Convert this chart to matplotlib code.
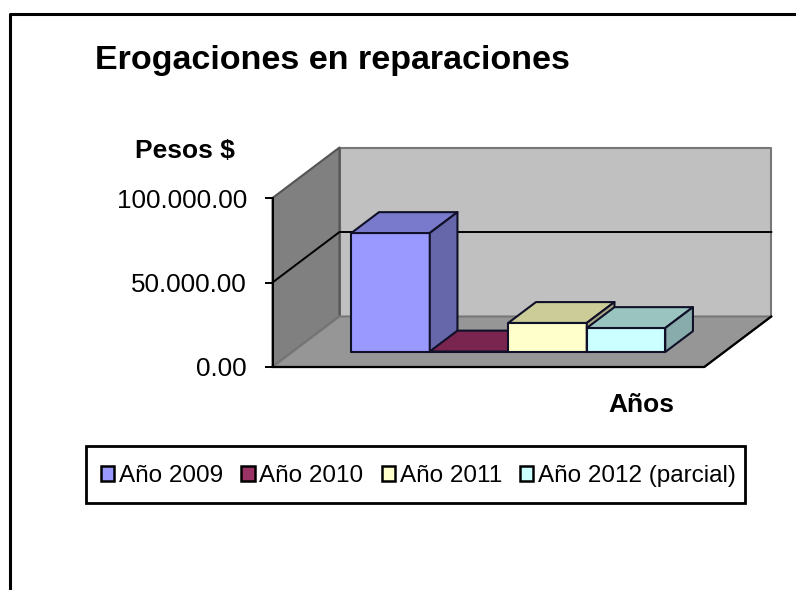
import matplotlib
matplotlib.use("Agg")
import matplotlib.pyplot as plt
from matplotlib.lines import Line2D
from matplotlib.patches import Patch, Polygon, Rectangle

plt.rcParams['font.family'] = ['Liberation Sans', 'DejaVu Sans']

series = ["Año 2009", "Año 2010", "Año 2011", "Año 2012 (parcial)"]
pesos = [70400, 300, 17200, 14200]
yticks = [0, 50000, 100000]
yticklabels = ["0.00", "50.000.00", "100.000.00"]
front = ["#9999FF", "#993366", "#FFFFCC", "#CCFFFF"]
top = ["#7A7ACC", "#7A2450", "#CCCC99", "#99C4C0"]
side = ["#6666AA", "#661B44", "#AAAA88", "#88ACAC"]

W, H = 796, 590
fig = plt.figure(figsize=(W / 100, H / 100), dpi=100)
x0, y0, y1 = 272.5, 367, 198
ax = fig.add_axes([x0 / W, 1 - y0 / H, (W - x0) / W, (y0 - y1) / H])

# one slot = one bar width, 0.75 gap each side
slot = 78.5
gap = 0.75
xmax = gap * 2 + len(pesos)
ax.set_xlim(0, (W - x0) / slot)
ax.set_ylim(0, 100000)

# fake 3d, depth 0 is front of the floor and 1 is the back wall
dx = 67 / slot
dy = 50.5 / 1.69 * 1000
d0, d1 = 0.297, 0.71


def pt(x, y, d):
    return (x + d * dx, y + d * dy)


def poly(points, color, edge="#606060", lw=1.5, z=1):
    ax.add_patch(Polygon(points, closed=True, facecolor=color, edgecolor=edge, linewidth=lw,
                         joinstyle="round", clip_on=False, zorder=z))


ymax = yticks[-1]
poly([pt(0, 0, 1), pt(xmax, 0, 1), pt(xmax, ymax, 1), pt(0, ymax, 1)], "#C0C0C0", "#777777")
poly([pt(0, 0, 0), pt(0, 0, 1), pt(0, ymax, 1), pt(0, ymax, 0)], "#808080", "#555555")
poly([pt(0, 0, 0), pt(xmax, 0, 0), pt(xmax, 0, 1), pt(0, 0, 1)], "#969696", "#777777")

# gridline and floor edges
grid = [pt(0, yticks[1], 0), pt(0, yticks[1], 1), pt(xmax, yticks[1], 1)]
ax.plot(*zip(*grid), color="black", lw=1.4, clip_on=False, zorder=2)
edge = [pt(0, 0, 0), pt(xmax, 0, 0), pt(xmax, 0, 1)]
ax.plot(*zip(*edge), color="black", lw=1.6, clip_on=False, zorder=2)

for i, v in enumerate(pesos):
    a = gap + i
    b = a + 1
    z = 3 + i
    poly([pt(a, 0, d0), pt(b, 0, d0), pt(b, v, d0), pt(a, v, d0)], front[i], "#101028", 1.5, z)
    poly([pt(a, v, d0), pt(b, v, d0), pt(b, v, d1), pt(a, v, d1)], top[i], "#101028", 1.5, z)
    poly([pt(b, 0, d0), pt(b, 0, d1), pt(b, v, d1), pt(b, v, d0)], side[i], "#101028", 1.5, z)

for s in ["top", "right", "bottom"]:
    ax.spines[s].set_visible(False)
ax.spines["left"].set_linewidth(1.4)
ax.set_xticks([])
ax.set_yticks(yticks)
ax.set_yticklabels(yticklabels, fontsize=18.7)
ax.tick_params(axis="y", length=5.5, width=1.4, pad=13)
ax.patch.set_visible(False)


def label(x, y, s, size):
    fig.text(x / W, 1 - y / H, s, fontsize=size, fontweight="bold", va="baseline", ha="left")


label(95, 69.5, "Erogaciones en reparaciones", 24.5)
label(135, 158, "Pesos $", 19)
label(608, 412, "Años", 19)

handles = [Patch(facecolor=c, edgecolor="black", linewidth=1.8) for c in front]
leg = ax.legend(handles, series, ncol=4, loc="center", fontsize=17.5,
                bbox_to_anchor=(418.5 / W, 1 - 476 / H), bbox_transform=fig.transFigure,
                frameon=False, handlelength=0.55, handleheight=0.55, handletextpad=0.2,
                columnspacing=0.74, borderpad=0, borderaxespad=0)
leg.set_zorder(10)

# legend box is off centre from its entries, so it is drawn apart
fig.add_artist(Rectangle((86 / W, 1 - 503 / H), 659 / W, 57 / H, fill=False,
                         edgecolor="black", linewidth=2.0, transform=fig.transFigure))

# outer border, no right or bottom side in the source
fig.add_artist(Line2D([9.5 / W, 9.5 / W, 1], [0, 1 - 14 / H, 1 - 14 / H], color="black", lw=2.2))

fig.savefig("out.png", dpi=100)
